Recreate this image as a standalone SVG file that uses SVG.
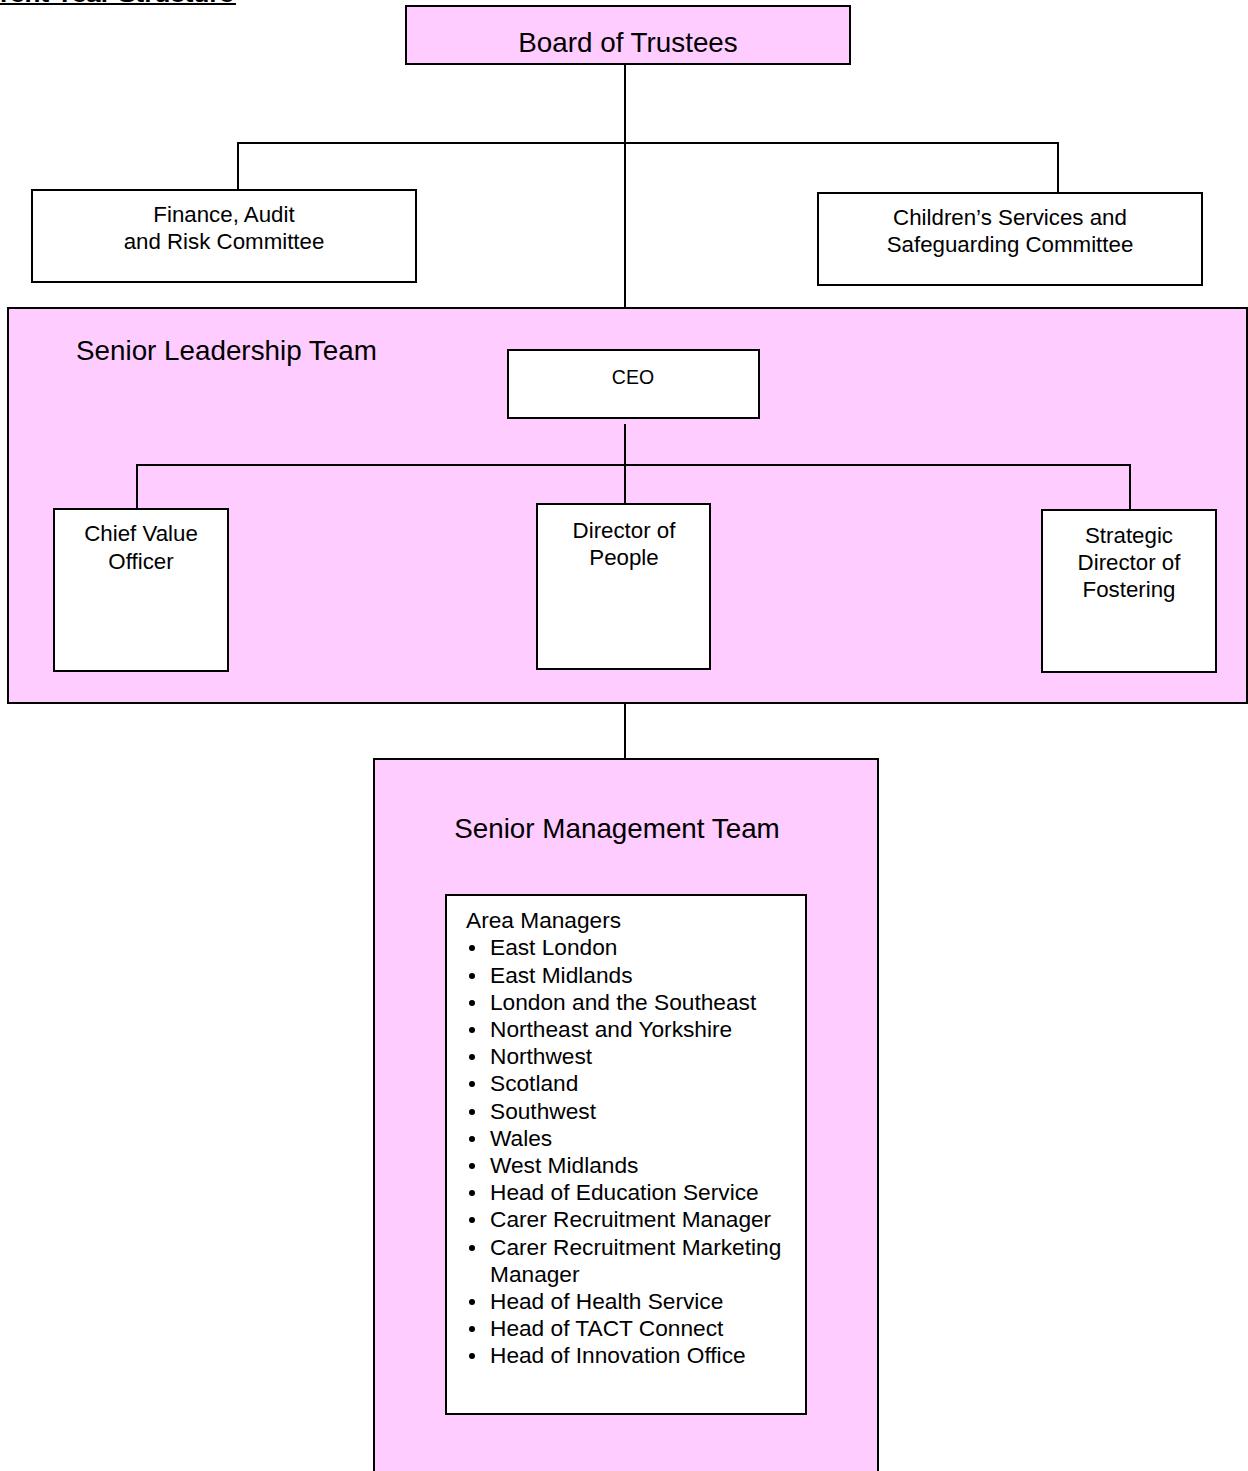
<svg xmlns="http://www.w3.org/2000/svg" width="1248" height="1471" viewBox="0 0 1248 1471">
<style>
  .pink{fill:#FFCCFF;stroke:#000;stroke-width:2}
  .box{fill:#FFFFFF;stroke:#000;stroke-width:2}
  .line{stroke:#000;stroke-width:2;fill:none}
  .h{font-family:"Liberation Sans",Arial,sans-serif;font-size:27.8px;fill:#000}
  .t{font-family:"Liberation Sans",Arial,sans-serif;font-size:22.3px;fill:#000}
  .c{text-anchor:middle}
  .title{font-family:"Liberation Sans",Arial,sans-serif;font-size:20px;font-weight:bold;fill:#000}
</style>
<rect width="1248" height="1471" fill="#FFFFFF"/>
<g id="title">
  <text class="title" x="0" y="2" textLength="234" lengthAdjust="spacingAndGlyphs">rent Year Structure</text>
  <line x1="0" y1="4" x2="236" y2="4" stroke="#000" stroke-width="2"/>
</g>
<g id="slt-container">
  <rect class="pink" x="8" y="308" width="1239" height="395"/>
  <text class="h" x="76" y="360">Senior Leadership Team</text>
</g>
<g id="smt-container">
  <rect class="pink" x="374" y="759" width="504" height="730"/>
  <text class="h c" x="617" y="838">Senior Management Team</text>
</g>
<g id="connectors">
  <line class="line" x1="625" y1="64" x2="625" y2="308"/>
  <line class="line" x1="238" y1="143" x2="1058" y2="143"/>
  <line class="line" x1="238" y1="142" x2="238" y2="190"/>
  <line class="line" x1="1058" y1="142" x2="1058" y2="193"/>
  <line class="line" x1="625" y1="424" x2="625" y2="504"/>
  <line class="line" x1="137" y1="465" x2="1130" y2="465"/>
  <line class="line" x1="137" y1="464" x2="137" y2="509"/>
  <line class="line" x1="1130" y1="464" x2="1130" y2="510"/>
  <line class="line" x1="625" y1="703" x2="625" y2="759"/>
</g>
<g id="board">
  <rect class="pink" x="406" y="6" width="444" height="58"/>
  <text class="h c" x="628" y="52">Board of Trustees</text>
</g>
<g id="finance">
  <rect class="box" x="32" y="190" width="384" height="92"/>
  <text class="t c" x="224" y="222">Finance, Audit</text>
  <text class="t c" x="224" y="249">and Risk Committee</text>
</g>
<g id="childrens">
  <rect class="box" x="818" y="193" width="384" height="92"/>
  <text class="t c" x="1010" y="225">Children’s Services and</text>
  <text class="t c" x="1010" y="252">Safeguarding Committee</text>
</g>
<g id="ceo">
  <rect class="box" x="508" y="350" width="251" height="68"/>
  <text class="t c" x="633" y="384" style="font-size:19.5px">CEO</text>
</g>
<g id="cvo">
  <rect class="box" x="54" y="509" width="174" height="162"/>
  <text class="t c" x="141" y="541">Chief Value</text>
  <text class="t c" x="141" y="569">Officer</text>
</g>
<g id="dop">
  <rect class="box" x="537" y="504" width="173" height="165"/>
  <text class="t c" x="624" y="538">Director of</text>
  <text class="t c" x="624" y="565">People</text>
</g>
<g id="sdf">
  <rect class="box" x="1042" y="510" width="174" height="162"/>
  <text class="t c" x="1129" y="543">Strategic</text>
  <text class="t c" x="1129" y="570">Director of</text>
  <text class="t c" x="1129" y="597">Fostering</text>
</g>
<g id="smt-list">
  <rect class="box" x="446" y="895" width="360" height="519"/>
  <g class="t" style="font-size:22.7px">
    <text x="466" y="928">Area Managers</text>
    <text x="490" y="955">East London</text>
    <text x="490" y="983">East Midlands</text>
    <text x="490" y="1010">London and the Southeast</text>
    <text x="490" y="1037">Northeast and Yorkshire</text>
    <text x="490" y="1064">Northwest</text>
    <text x="490" y="1091">Scotland</text>
    <text x="490" y="1119">Southwest</text>
    <text x="490" y="1146">Wales</text>
    <text x="490" y="1173">West Midlands</text>
    <text x="490" y="1200">Head of Education Service</text>
    <text x="490" y="1227">Carer Recruitment Manager</text>
    <text x="490" y="1255">Carer Recruitment Marketing</text>
    <text x="490" y="1282">Manager</text>
    <text x="490" y="1309">Head of Health Service</text>
    <text x="490" y="1336">Head of TACT Connect</text>
    <text x="490" y="1363">Head of Innovation Office</text>
  </g>
  <g fill="#000">
    <circle cx="472" cy="948" r="3"/>
    <circle cx="472" cy="976" r="3"/>
    <circle cx="472" cy="1003" r="3"/>
    <circle cx="472" cy="1030" r="3"/>
    <circle cx="472" cy="1057" r="3"/>
    <circle cx="472" cy="1084" r="3"/>
    <circle cx="472" cy="1112" r="3"/>
    <circle cx="472" cy="1139" r="3"/>
    <circle cx="472" cy="1166" r="3"/>
    <circle cx="472" cy="1193" r="3"/>
    <circle cx="472" cy="1220" r="3"/>
    <circle cx="472" cy="1248" r="3"/>
    <circle cx="472" cy="1302" r="3"/>
    <circle cx="472" cy="1329" r="3"/>
    <circle cx="472" cy="1356" r="3"/>
  </g>
</g>
</svg>
